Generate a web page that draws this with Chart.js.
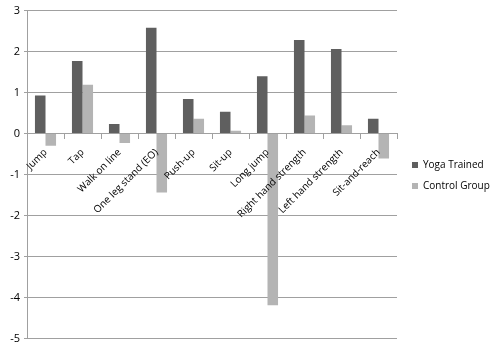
<!DOCTYPE html>
<html><head><meta charset="utf-8">
<script src="https://cdn.jsdelivr.net/npm/chart.js@4/dist/chart.umd.min.js"></script>
<style>html,body{margin:0;padding:0;background:#fff}#wrap{width:500px;height:349px}</style>
</head><body><div id="wrap"><canvas id="c"></canvas></div>
<script>
const categories = ["Jump","Tap","Walk on line","One leg stand (EO)","Push-up","Sit-up","Long jump","Right hand strength","Left hand strength","Sit-and-reach"];
const yogaTrained = [0.93,1.77,0.23,2.58,0.84,0.53,1.40,2.28,2.06,0.36];
const controlGroup = [-0.30,1.19,-0.23,-1.44,0.36,0.07,-4.19,0.44,0.20,-0.61];
const yTicks = [3,2,1,0,-1,-2,-3,-4,-5];

Chart.defaults.font.family = "'Open Sans', 'Liberation Sans', sans-serif";
Chart.defaults.font.size = 10;
Chart.defaults.color = '#000';

const legendFix = {
  id: 'legendFix',
  beforeLayout(chart) {
    const lg = chart.legend;
    if (lg && !lg._patched) {
      const orig = lg.fit;
      lg.fit = function () { orig.call(this); this.width = 103; };
      lg._patched = true;
    }
  },
  afterLayout(chart) {
    const lg = chart.legend;
    if (lg) { lg.left += 4; lg.right += 4; lg.top += 3; lg.bottom += 3; }
  }
};

new Chart(document.getElementById('c'), {
  type: 'bar',
  data: {
    labels: categories,
    datasets: [
      {label: 'Yoga Trained', data: yogaTrained, backgroundColor: '#5f5f5f', borderWidth: 0},
      {label: 'Control Group', data: controlGroup, backgroundColor: '#b4b4b4', borderWidth: 0}
    ]
  },
  plugins: [legendFix],
  options: {
    responsive: true,
    maintainAspectRatio: false,
    animation: false,
    layout: {padding: {top: 4, bottom: 8, left: 0, right: 0}},
    datasets: {bar: {categoryPercentage: 0.57, barPercentage: 1}},
    plugins: {
      legend: {
        position: 'right',
        labels: {boxWidth: 6, boxHeight: 6, padding: 11, font: {size: 10}}
      },
      tooltip: {enabled: false}
    },
    scales: {
      x: {
        position: {y: 0},
        grid: {drawOnChartArea: false, drawTicks: true, tickLength: 5, color: '#a0a0a0', offset: true},
        border: {color: '#a0a0a0'},
        ticks: {z: 1, minRotation: 45, maxRotation: 45, autoSkip: false, padding: 8, labelOffset: 0, font: {size: 10}}
      },
      y: {
        min: -5, max: 3,
        afterFit: s => { s.width = 27; },
        afterBuildTicks: s => { s.ticks = yTicks.map(v => ({value: v})); },
        grid: {color: '#a0a0a0', tickLength: 3},
        border: {color: '#a0a0a0'},
        ticks: {stepSize: 1, padding: 4, font: {size: 11}}
      }
    }
  }
});
</script></body></html>
